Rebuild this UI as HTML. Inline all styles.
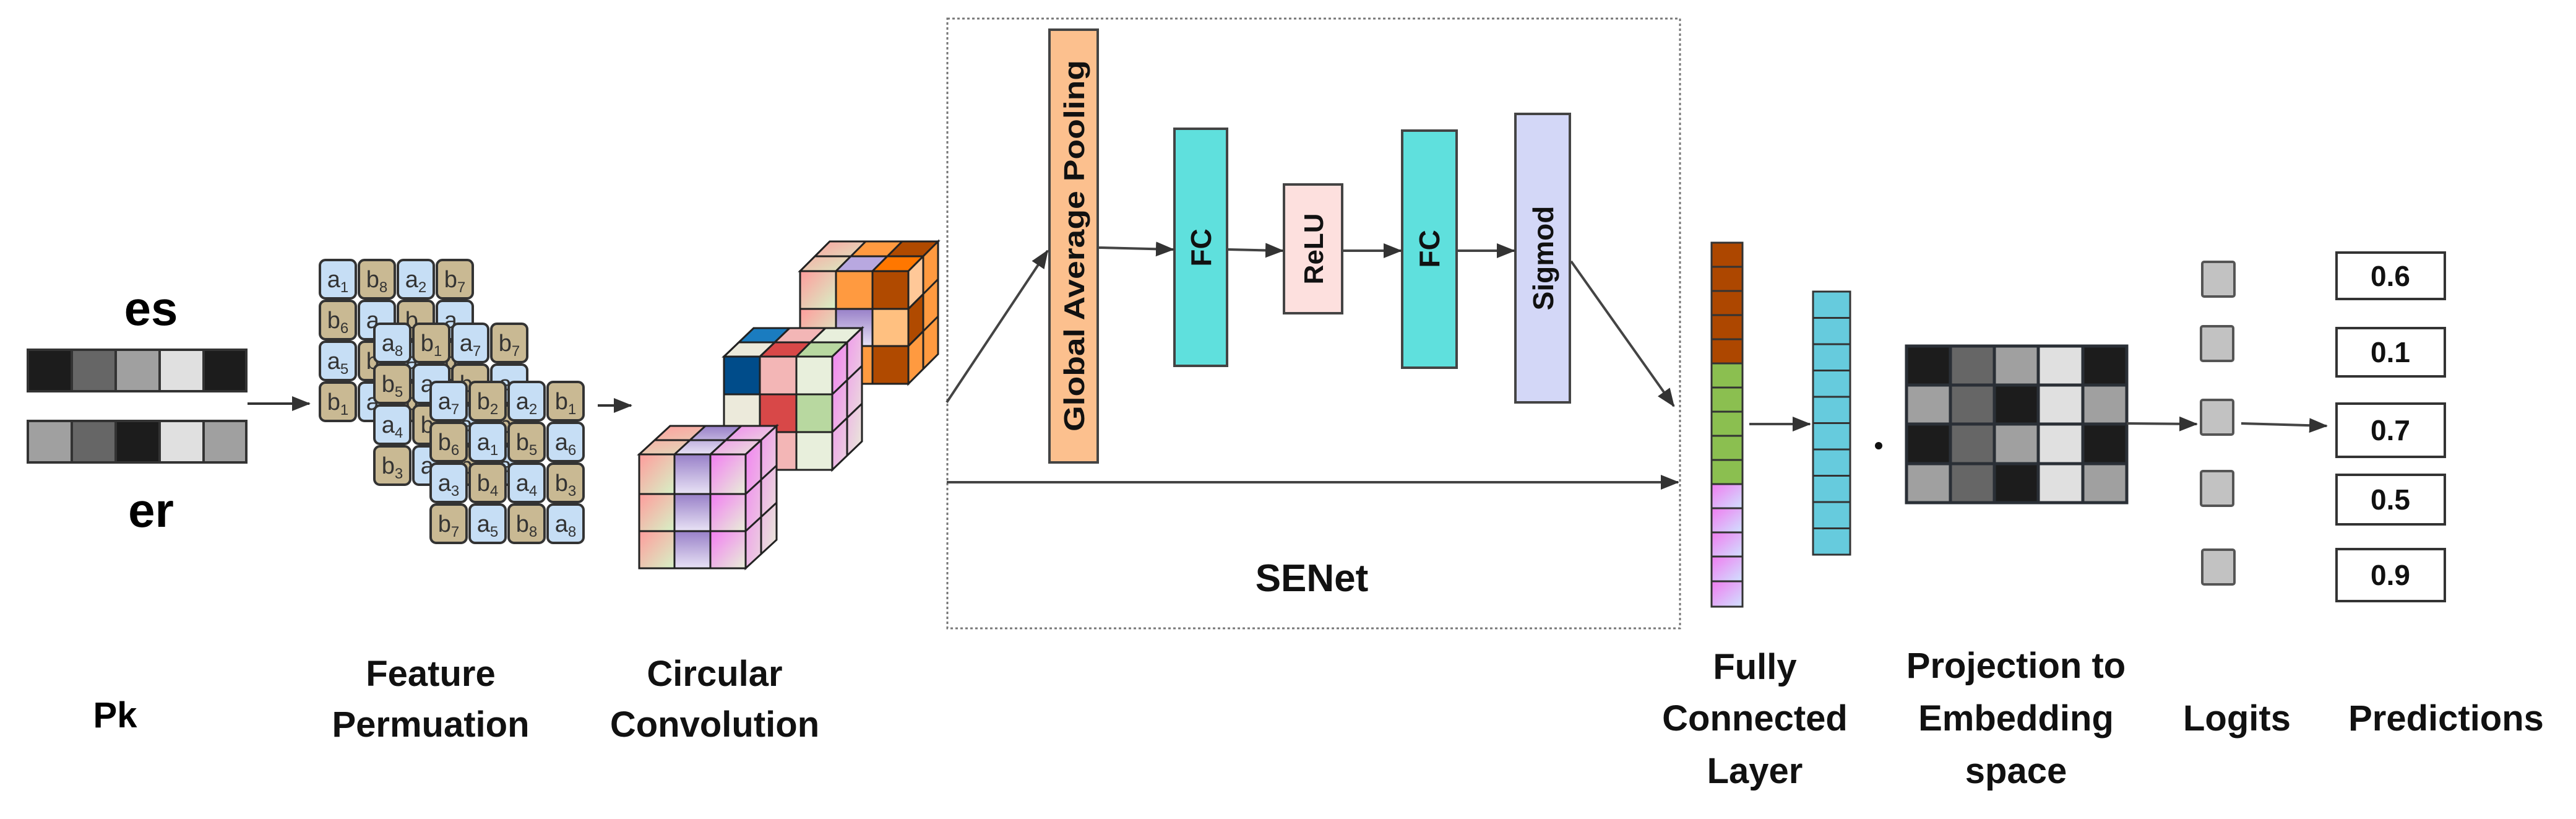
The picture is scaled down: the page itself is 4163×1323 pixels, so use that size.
<!DOCTYPE html>
<html><head><meta charset="utf-8"><style>
html,body{margin:0;padding:0;background:#fff;}
svg{display:block;}
text{font-family:"Liberation Sans",sans-serif;}
</style></head><body>
<svg width="4163" height="1323" viewBox="0 0 4163 1323" xmlns="http://www.w3.org/2000/svg">
<defs>
<marker id="ah" markerUnits="userSpaceOnUse" markerWidth="30" markerHeight="24" refX="28" refY="12" orient="auto"><path d="M0,0 L30,12 L0,24 z" fill="#333"/></marker>
<linearGradient id="g1" x1="0" y1="0" x2="1" y2="1"><stop offset="0" stop-color="#ff9c9c"/><stop offset="1" stop-color="#d6f2c6"/></linearGradient>
<linearGradient id="g2" x1="0" y1="0" x2="0" y2="1"><stop offset="0" stop-color="#9880c8"/><stop offset="1" stop-color="#e8e2f5"/></linearGradient>
<linearGradient id="g3" x1="0" y1="0" x2="1" y2="1"><stop offset="0" stop-color="#f27ef2"/><stop offset="1" stop-color="#e8f0d8"/></linearGradient>
<linearGradient id="g4" x1="0" y1="0" x2="1" y2="1"><stop offset="0" stop-color="#f07cf0"/><stop offset="1" stop-color="#d0e2ff"/></linearGradient>
</defs>

<!-- left labels -->
<text x="244" y="525" font-size="78" font-weight="bold" text-anchor="middle">es</text>
<text x="244" y="851" font-size="78" font-weight="bold" text-anchor="middle">er</text>
<text x="186" y="1175" font-size="58" font-weight="bold" text-anchor="middle">Pk</text>

<!-- es bar -->
<g stroke="#333" stroke-width="4">
<rect x="45" y="565" width="71" height="67" fill="#1c1c1c"/><rect x="116" y="565" width="71" height="67" fill="#666"/><rect x="187" y="565" width="71" height="67" fill="#a0a0a0"/><rect x="258" y="565" width="71" height="67" fill="#e0e0e0"/><rect x="329" y="565" width="69" height="67" fill="#1c1c1c"/>
<rect x="45" y="680" width="71" height="67" fill="#a0a0a0"/><rect x="116" y="680" width="71" height="67" fill="#666"/><rect x="187" y="680" width="71" height="67" fill="#1c1c1c"/><rect x="258" y="680" width="71" height="67" fill="#e0e0e0"/><rect x="329" y="680" width="69" height="67" fill="#a0a0a0"/>
</g>
<line x1="400" y1="652" x2="500" y2="652" stroke="#333" stroke-width="4" marker-end="url(#ah)"/>

<!-- Feature permutation tiles -->
<g stroke="#333" stroke-width="4" font-size="38" fill="#333" text-anchor="middle">
<!-- back -->
<g>
<rect x="517" y="420" width="58" height="62" rx="9" fill="#c6def5"/><rect x="580" y="420" width="58" height="62" rx="9" fill="#c9b993"/><rect x="643" y="420" width="58" height="62" rx="9" fill="#c6def5"/><rect x="706" y="420" width="58" height="62" rx="9" fill="#c9b993"/>
<rect x="517" y="486" width="58" height="62" rx="9" fill="#c9b993"/><rect x="580" y="486" width="58" height="62" rx="9" fill="#c6def5"/><rect x="643" y="486" width="58" height="62" rx="9" fill="#c9b993"/><rect x="706" y="486" width="58" height="62" rx="9" fill="#c6def5"/>
<rect x="517" y="552" width="58" height="62" rx="9" fill="#c6def5"/><rect x="580" y="552" width="58" height="62" rx="9" fill="#c9b993"/><rect x="643" y="552" width="58" height="62" rx="9" fill="#c6def5"/><rect x="706" y="552" width="58" height="62" rx="9" fill="#c9b993"/>
<rect x="517" y="618" width="58" height="62" rx="9" fill="#c9b993"/><rect x="580" y="618" width="58" height="62" rx="9" fill="#c6def5"/><rect x="643" y="618" width="58" height="62" rx="9" fill="#c9b993"/><rect x="706" y="618" width="58" height="62" rx="9" fill="#c6def5"/>
</g>
<g stroke="none">
<text x="546" y="464">a<tspan font-size="24" dy="8">1</tspan></text><text x="609" y="464">b<tspan font-size="24" dy="8">8</tspan></text><text x="672" y="464">a<tspan font-size="24" dy="8">2</tspan></text><text x="735" y="464">b<tspan font-size="24" dy="8">7</tspan></text>
<text x="546" y="530">b<tspan font-size="24" dy="8">6</tspan></text><text x="609" y="530">a<tspan font-size="24" dy="8">3</tspan></text><text x="672" y="530">b<tspan font-size="24" dy="8">4</tspan></text><text x="735" y="530">a<tspan font-size="24" dy="8">4</tspan></text>
<text x="546" y="596">a<tspan font-size="24" dy="8">5</tspan></text><text x="609" y="596">b<tspan font-size="24" dy="8">2</tspan></text><text x="672" y="596">a<tspan font-size="24" dy="8">6</tspan></text><text x="735" y="596">b<tspan font-size="24" dy="8">3</tspan></text>
<text x="546" y="662">b<tspan font-size="24" dy="8">1</tspan></text><text x="609" y="662">a<tspan font-size="24" dy="8">6</tspan></text><text x="672" y="662">b<tspan font-size="24" dy="8">5</tspan></text><text x="735" y="662">a<tspan font-size="24" dy="8">2</tspan></text>
</g>
<!-- middle -->
<g>
<rect x="605" y="523" width="58" height="62" rx="9" fill="#c6def5"/><rect x="668" y="523" width="58" height="62" rx="9" fill="#c9b993"/><rect x="731" y="523" width="58" height="62" rx="9" fill="#c6def5"/><rect x="794" y="523" width="58" height="62" rx="9" fill="#c9b993"/>
<rect x="605" y="589" width="58" height="62" rx="9" fill="#c9b993"/><rect x="668" y="589" width="58" height="62" rx="9" fill="#c6def5"/><rect x="731" y="589" width="58" height="62" rx="9" fill="#c9b993"/><rect x="794" y="589" width="58" height="62" rx="9" fill="#c6def5"/>
<rect x="605" y="655" width="58" height="62" rx="9" fill="#c6def5"/><rect x="668" y="655" width="58" height="62" rx="9" fill="#c9b993"/><rect x="731" y="655" width="58" height="62" rx="9" fill="#c6def5"/><rect x="794" y="655" width="58" height="62" rx="9" fill="#c9b993"/>
<rect x="605" y="721" width="58" height="62" rx="9" fill="#c9b993"/><rect x="668" y="721" width="58" height="62" rx="9" fill="#c6def5"/><rect x="731" y="721" width="58" height="62" rx="9" fill="#c9b993"/><rect x="794" y="721" width="58" height="62" rx="9" fill="#c6def5"/>
</g>
<g stroke="none">
<text x="634" y="567">a<tspan font-size="24" dy="8">8</tspan></text><text x="697" y="567">b<tspan font-size="24" dy="8">1</tspan></text><text x="760" y="567">a<tspan font-size="24" dy="8">7</tspan></text><text x="823" y="567">b<tspan font-size="24" dy="8">7</tspan></text>
<text x="634" y="633">b<tspan font-size="24" dy="8">5</tspan></text><text x="697" y="633">a<tspan font-size="24" dy="8">6</tspan></text><text x="760" y="633">b<tspan font-size="24" dy="8">3</tspan></text><text x="823" y="633">a<tspan font-size="24" dy="8">2</tspan></text>
<text x="634" y="699">a<tspan font-size="24" dy="8">4</tspan></text><text x="697" y="699">b<tspan font-size="24" dy="8">6</tspan></text><text x="760" y="699">a<tspan font-size="24" dy="8">1</tspan></text><text x="823" y="699">b<tspan font-size="24" dy="8">2</tspan></text>
<text x="634" y="765">b<tspan font-size="24" dy="8">3</tspan></text><text x="697" y="765">a<tspan font-size="24" dy="8">3</tspan></text><text x="760" y="765">b<tspan font-size="24" dy="8">4</tspan></text><text x="823" y="765">a<tspan font-size="24" dy="8">5</tspan></text>
</g>
<!-- front -->
<g>
<rect x="696" y="617" width="58" height="62" rx="9" fill="#c6def5"/><rect x="759" y="617" width="58" height="62" rx="9" fill="#c9b993"/><rect x="822" y="617" width="58" height="62" rx="9" fill="#c6def5"/><rect x="885" y="617" width="58" height="62" rx="9" fill="#c9b993"/>
<rect x="696" y="683" width="58" height="62" rx="9" fill="#c9b993"/><rect x="759" y="683" width="58" height="62" rx="9" fill="#c6def5"/><rect x="822" y="683" width="58" height="62" rx="9" fill="#c9b993"/><rect x="885" y="683" width="58" height="62" rx="9" fill="#c6def5"/>
<rect x="696" y="749" width="58" height="62" rx="9" fill="#c6def5"/><rect x="759" y="749" width="58" height="62" rx="9" fill="#c9b993"/><rect x="822" y="749" width="58" height="62" rx="9" fill="#c6def5"/><rect x="885" y="749" width="58" height="62" rx="9" fill="#c9b993"/>
<rect x="696" y="815" width="58" height="62" rx="9" fill="#c9b993"/><rect x="759" y="815" width="58" height="62" rx="9" fill="#c6def5"/><rect x="822" y="815" width="58" height="62" rx="9" fill="#c9b993"/><rect x="885" y="815" width="58" height="62" rx="9" fill="#c6def5"/>
</g>
<g stroke="none">
<text x="725" y="661">a<tspan font-size="24" dy="8">7</tspan></text><text x="788" y="661">b<tspan font-size="24" dy="8">2</tspan></text><text x="851" y="661">a<tspan font-size="24" dy="8">2</tspan></text><text x="914" y="661">b<tspan font-size="24" dy="8">1</tspan></text>
<text x="725" y="727">b<tspan font-size="24" dy="8">6</tspan></text><text x="788" y="727">a<tspan font-size="24" dy="8">1</tspan></text><text x="851" y="727">b<tspan font-size="24" dy="8">5</tspan></text><text x="914" y="727">a<tspan font-size="24" dy="8">6</tspan></text>
<text x="725" y="793">a<tspan font-size="24" dy="8">3</tspan></text><text x="788" y="793">b<tspan font-size="24" dy="8">4</tspan></text><text x="851" y="793">a<tspan font-size="24" dy="8">4</tspan></text><text x="914" y="793">b<tspan font-size="24" dy="8">3</tspan></text>
<text x="725" y="859">b<tspan font-size="24" dy="8">7</tspan></text><text x="788" y="859">a<tspan font-size="24" dy="8">5</tspan></text><text x="851" y="859">b<tspan font-size="24" dy="8">8</tspan></text><text x="914" y="859">a<tspan font-size="24" dy="8">8</tspan></text>
</g>
</g>
<line x1="966" y1="655" x2="1020" y2="655" stroke="#333" stroke-width="4" marker-end="url(#ah)"/>

<!-- cubes -->
<g stroke="#222" stroke-width="3">
<!-- back cube: front 1293-1468, 438-620; depth (48,-48) -->
<polygon points="1293,438 1468,438 1516,390 1341,390" fill="#ff9a40"/>
<polygon points="1293,438 1351,438 1399,390 1341,390" fill="url(#g1)"/>
<polygon points="1410,438 1468,438 1516,390 1458,390" fill="#b04a00"/>
<polygon points="1351,438 1410,438 1434,414 1375,414" fill="#b8a8e0"/>
<polygon points="1410,438 1468,438 1492,414 1434,414" fill="#ff7700"/>
<line x1="1317" y1="414" x2="1492" y2="414"/>
<polygon points="1468,438 1516,390 1516,572 1468,620" fill="#ff9a40"/>
<polygon points="1468,499 1492,475 1492,535 1468,559" fill="#b04a00"/>
<polygon points="1468,438 1492,414 1492,475 1468,499" fill="#ffc898"/>
<line x1="1492" y1="414" x2="1492" y2="596"/>
<line x1="1468" y1="499" x2="1516" y2="451"/><line x1="1468" y1="559" x2="1516" y2="511"/>
<rect x="1293" y="438" width="58" height="61" fill="url(#g1)"/><rect x="1351" y="438" width="59" height="61" fill="#ff9a40"/><rect x="1410" y="438" width="58" height="61" fill="#b04a00"/>
<rect x="1293" y="499" width="58" height="60" fill="url(#g1)"/><rect x="1351" y="499" width="59" height="60" fill="url(#g2)"/><rect x="1410" y="499" width="58" height="60" fill="#ffc080"/>
<rect x="1293" y="559" width="58" height="61" fill="#ffb070"/><rect x="1351" y="559" width="59" height="61" fill="#ff9a40"/><rect x="1410" y="559" width="58" height="61" fill="#b04a00"/>

<!-- middle cube: front 1170-1345, 576-759; depth (48,-46) -->
<polygon points="1170,576 1345,576 1393,530 1218,530" fill="#eceadb"/>
<polygon points="1194,553 1252,553 1276,530 1218,530" fill="#1a7cc0"/>
<polygon points="1252,553 1310,553 1334,530 1276,530" fill="#f3b6b6"/>
<polygon points="1310,553 1369,553 1393,530 1334,530" fill="#e8efdc"/>
<polygon points="1228,576 1287,576 1310,553 1252,553" fill="#d84848"/>
<polygon points="1287,576 1345,576 1369,553 1310,553" fill="#b8d8a0"/>
<polygon points="1170,576 1228,576 1252,553 1194,553" fill="#eceadb"/>
<polygon points="1345,576 1393,530 1393,713 1345,759" fill="url(#g3)"/>
<line x1="1369" y1="553" x2="1369" y2="736"/>
<line x1="1345" y1="637" x2="1393" y2="591"/><line x1="1345" y1="698" x2="1393" y2="652"/>
<rect x="1170" y="576" width="58" height="61" fill="#004c8a"/><rect x="1228" y="576" width="59" height="61" fill="#f3b6b6"/><rect x="1287" y="576" width="58" height="61" fill="#e8efdc"/>
<rect x="1170" y="637" width="58" height="61" fill="#eceadb"/><rect x="1228" y="637" width="59" height="61" fill="#d84848"/><rect x="1287" y="637" width="58" height="61" fill="#b8d8a0"/>
<rect x="1170" y="698" width="58" height="61" fill="#eceadb"/><rect x="1228" y="698" width="59" height="61" fill="#f3b6b6"/><rect x="1287" y="698" width="58" height="61" fill="#e8efdc"/>

<!-- bottom cube: front 1033-1205, 734-918; depth (50,-46) -->
<polygon points="1033,734 1205,734 1255,688 1083,688" fill="url(#g1)"/>
<polygon points="1090,734 1148,734 1198,688 1140,688" fill="url(#g2)"/>
<polygon points="1148,734 1205,734 1255,688 1198,688" fill="url(#g3)"/>
<line x1="1058" y1="711" x2="1230" y2="711"/>
<polygon points="1205,734 1255,688 1255,872 1205,918" fill="url(#g3)"/>
<line x1="1230" y1="711" x2="1230" y2="895"/>
<line x1="1205" y1="798" x2="1255" y2="752"/><line x1="1205" y1="858" x2="1255" y2="812"/>
<rect x="1033" y="734" width="57" height="64" fill="url(#g1)"/><rect x="1090" y="734" width="58" height="64" fill="url(#g2)"/><rect x="1148" y="734" width="57" height="64" fill="url(#g3)"/>
<rect x="1033" y="798" width="57" height="60" fill="url(#g1)"/><rect x="1090" y="798" width="58" height="60" fill="url(#g2)"/><rect x="1148" y="798" width="57" height="60" fill="url(#g3)"/>
<rect x="1033" y="858" width="57" height="60" fill="url(#g1)"/><rect x="1090" y="858" width="58" height="60" fill="url(#g2)"/><rect x="1148" y="858" width="57" height="60" fill="url(#g3)"/>
</g>

<!-- SENet box -->
<rect x="1531" y="30" width="1184" height="985" fill="none" stroke="#777" stroke-width="3" stroke-dasharray="4,4"/>
<g stroke="#444" stroke-width="4">
<rect x="1696" y="48" width="78" height="699" fill="#fcc08e"/>
<rect x="1898" y="208" width="85" height="383" fill="#5fe0dd"/>
<rect x="2075" y="298" width="94" height="208" fill="#fde0de"/>
<rect x="2266" y="211" width="88" height="383" fill="#5fe0dd"/>
<rect x="2449" y="184" width="88" height="466" fill="#d3d7f7"/>
</g>
<g font-weight="bold" fill="#111" text-anchor="middle" font-size="46">
<text transform="translate(1752,397) rotate(-90)" textLength="600" lengthAdjust="spacingAndGlyphs">Global Average Pooling</text>
<text transform="translate(1957,400) rotate(-90)">FC</text>
<text transform="translate(2138,402) rotate(-90)" font-size="44">ReLU</text>
<text transform="translate(2326,402) rotate(-90)">FC</text>
<text transform="translate(2510,417) rotate(-90)">Sigmod</text>
</g>
<text x="2120" y="955" font-size="62" font-weight="bold" text-anchor="middle" fill="#111">SENet</text>
<g stroke="#444" stroke-width="4" fill="none">
<line x1="1530" y1="650" x2="1693" y2="405" marker-end="url(#ah)"/>
<line x1="1776" y1="400" x2="1896" y2="403" marker-end="url(#ah)"/>
<line x1="1985" y1="403" x2="2073" y2="405" marker-end="url(#ah)"/>
<line x1="2171" y1="405" x2="2264" y2="405" marker-end="url(#ah)"/>
<line x1="2356" y1="405" x2="2447" y2="405" marker-end="url(#ah)"/>
<line x1="2539" y1="422" x2="2705" y2="656" marker-end="url(#ah)"/>
<line x1="1530" y1="779" x2="2712" y2="779" marker-end="url(#ah)"/>
</g>

<!-- FC layer bar -->
<g stroke="#333" stroke-width="3">
<rect x="2766" y="392" width="50" height="39" fill="#ad4700"/><rect x="2766" y="431" width="50" height="39" fill="#ad4700"/><rect x="2766" y="470" width="50" height="39" fill="#ad4700"/><rect x="2766" y="509" width="50" height="39" fill="#ad4700"/><rect x="2766" y="548" width="50" height="39" fill="#ad4700"/>
<rect x="2766" y="587" width="50" height="39" fill="#8bbf50"/><rect x="2766" y="626" width="50" height="39" fill="#8bbf50"/><rect x="2766" y="665" width="50" height="39" fill="#8bbf50"/><rect x="2766" y="704" width="50" height="39" fill="#8bbf50"/><rect x="2766" y="743" width="50" height="39" fill="#8bbf50"/>
<rect x="2766" y="782" width="50" height="39" fill="url(#g4)"/><rect x="2766" y="821" width="50" height="39" fill="url(#g4)"/><rect x="2766" y="860" width="50" height="39" fill="url(#g4)"/><rect x="2766" y="899" width="50" height="40" fill="url(#g4)"/><rect x="2766" y="939" width="50" height="41" fill="url(#g4)"/>
</g>
<line x1="2827" y1="685" x2="2925" y2="685" stroke="#444" stroke-width="4" marker-end="url(#ah)"/>
<g stroke="#333" stroke-width="3" fill="#66cbdd">
<rect x="2930" y="471" width="60" height="42.5"/><rect x="2930" y="513.5" width="60" height="42.5"/><rect x="2930" y="556" width="60" height="42.5"/><rect x="2930" y="598.5" width="60" height="42.5"/><rect x="2930" y="641" width="60" height="42.5"/><rect x="2930" y="683.5" width="60" height="42.5"/><rect x="2930" y="726" width="60" height="42.5"/><rect x="2930" y="768.5" width="60" height="42.5"/><rect x="2930" y="811" width="60" height="42.5"/><rect x="2930" y="853.5" width="60" height="42.5"/>
</g>
<circle cx="3036" cy="720" r="6" fill="#111"/>

<!-- matrix -->
<g stroke="#2a2f36" stroke-width="5">
<rect x="3081" y="559" width="356" height="253" fill="#1c1c1c"/>
<rect x="3081" y="559" width="71" height="63" fill="#1c1c1c"/><rect x="3152" y="559" width="71" height="63" fill="#666"/><rect x="3223" y="559" width="71" height="63" fill="#a0a0a0"/><rect x="3294" y="559" width="72" height="63" fill="#e0e0e0"/><rect x="3366" y="559" width="71" height="63" fill="#1c1c1c"/>
<rect x="3081" y="622" width="71" height="63" fill="#a0a0a0"/><rect x="3152" y="622" width="71" height="63" fill="#666"/><rect x="3223" y="622" width="71" height="63" fill="#1c1c1c"/><rect x="3294" y="622" width="72" height="63" fill="#e0e0e0"/><rect x="3366" y="622" width="71" height="63" fill="#a0a0a0"/>
<rect x="3081" y="685" width="71" height="64" fill="#1c1c1c"/><rect x="3152" y="685" width="71" height="64" fill="#666"/><rect x="3223" y="685" width="71" height="64" fill="#a0a0a0"/><rect x="3294" y="685" width="72" height="64" fill="#e0e0e0"/><rect x="3366" y="685" width="71" height="64" fill="#1c1c1c"/>
<rect x="3081" y="749" width="71" height="63" fill="#a0a0a0"/><rect x="3152" y="749" width="71" height="63" fill="#666"/><rect x="3223" y="749" width="71" height="63" fill="#1c1c1c"/><rect x="3294" y="749" width="72" height="63" fill="#e0e0e0"/><rect x="3366" y="749" width="71" height="63" fill="#a0a0a0"/>
</g>
<line x1="3437" y1="684" x2="3550" y2="685" stroke="#444" stroke-width="4" marker-end="url(#ah)"/>

<!-- logits -->
<g stroke="#555" stroke-width="4" fill="#c2c2c2">
<rect x="3559" y="423" width="52" height="56" rx="3"/>
<rect x="3557" y="527" width="52" height="56" rx="3"/>
<rect x="3557" y="646" width="52" height="56" rx="3"/>
<rect x="3557" y="761" width="52" height="56" rx="3"/>
<rect x="3559" y="888" width="52" height="56" rx="3"/>
</g>
<line x1="3622" y1="684" x2="3760" y2="688" stroke="#444" stroke-width="4" marker-end="url(#ah)"/>

<!-- predictions -->
<g stroke="#333" stroke-width="4" fill="#fff">
<rect x="3776" y="408" width="175" height="75"/>
<rect x="3776" y="530" width="175" height="78"/>
<rect x="3776" y="652" width="175" height="86"/>
<rect x="3776" y="767" width="175" height="80"/>
<rect x="3776" y="887" width="175" height="84"/>
</g>
<g font-size="46" font-weight="bold" text-anchor="middle" fill="#111">
<text x="3863" y="462">0.6</text>
<text x="3863" y="585">0.1</text>
<text x="3863" y="711">0.7</text>
<text x="3863" y="823">0.5</text>
<text x="3863" y="945">0.9</text>
</g>

<!-- bottom labels -->
<g font-size="58" font-weight="bold" text-anchor="middle" fill="#111">
<text x="696" y="1108">Feature</text>
<text x="696" y="1190">Permuation</text>
<text x="1155" y="1108">Circular</text>
<text x="1155" y="1190">Convolution</text>
<text x="2836" y="1097">Fully</text>
<text x="2836" y="1180">Connected</text>
<text x="2836" y="1265">Layer</text>
<text x="3258" y="1095">Projection to</text>
<text x="3258" y="1180">Embedding</text>
<text x="3258" y="1265">space</text>
<text x="3615" y="1180">Logits</text>
<text x="3953" y="1180">Predictions</text>
</g>
</svg>
</body></html>
